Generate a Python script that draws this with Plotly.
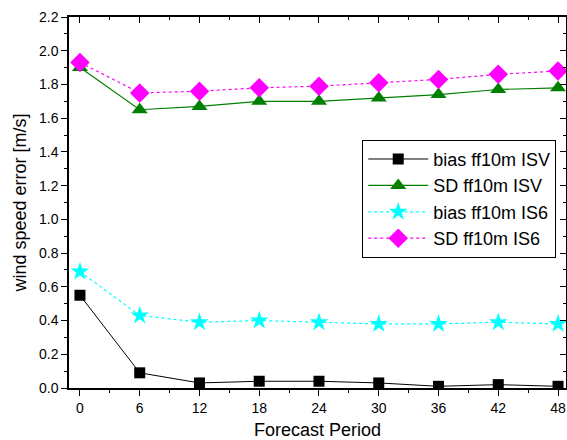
import plotly.graph_objects as go

# Forecast lead times (hours)
forecast_period = [0, 6, 12, 18, 24, 30, 36, 42, 48]

# Wind speed error statistics at 10 m [m/s]
bias_isv = [0.55, 0.09, 0.03, 0.04, 0.04, 0.03, 0.01, 0.02, 0.01]
sd_isv = [1.90, 1.65, 1.67, 1.70, 1.70, 1.72, 1.74, 1.77, 1.78]
bias_is6 = [0.69, 0.43, 0.39, 0.40, 0.39, 0.38, 0.38, 0.39, 0.38]
sd_is6 = [1.93, 1.75, 1.76, 1.78, 1.79, 1.81, 1.83, 1.86, 1.88]

series_names = ["bias ff10m ISV", "SD ff10m ISV", "bias ff10m IS6", "SD ff10m IS6"]

FONT = "Liberation Sans, Arial, sans-serif"

fig = go.Figure()

fig.add_trace(go.Scatter(
    x=forecast_period, y=bias_isv, name=series_names[0], mode="lines+markers",
    line=dict(color="black", width=1),
    marker=dict(symbol="square", size=11, color="black"),
))
fig.add_trace(go.Scatter(
    x=forecast_period, y=sd_isv, name=series_names[1], mode="lines+markers",
    line=dict(color="#008000", width=1.2),
    marker=dict(symbol="triangle-up", size=14, color="#008000"),
))
fig.add_trace(go.Scatter(
    x=forecast_period, y=bias_is6, name=series_names[2], mode="lines+markers",
    line=dict(color="#00FFFF", width=1.2, dash="dot"),
    marker=dict(symbol="star", size=14, color="#00FFFF"),
))
fig.add_trace(go.Scatter(
    x=forecast_period, y=sd_is6, name=series_names[3], mode="lines+markers",
    line=dict(color="#FF00FF", width=1.2, dash="dot"),
    marker=dict(symbol="diamond", size=15, color="#FF00FF"),
))

xrange = [-1.1, 48.8]
yrange = [0, 2.2]

fig.update_layout(
    width=567, height=440,
    margin=dict(l=69, r=1, t=17, b=52),
    paper_bgcolor="white", plot_bgcolor="white",
    font=dict(family=FONT, size=14, color="black"),
    showlegend=True,
    legend=dict(
        x=0.59, y=0.51, xanchor="left", yanchor="middle",
        bgcolor="white", bordercolor="black", borderwidth=1,
        font=dict(family=FONT, size=18, color="black"),
        tracegroupgap=0, itemwidth=60,
    ),
    xaxis=dict(
        range=xrange, tickmode="array", tickvals=forecast_period,
        ticks="outside", ticklen=6, tickwidth=1, tickcolor="black",
        showline=True, linecolor="black", linewidth=1.5,
        showgrid=False, zeroline=False,
        minor=dict(ticks="outside", ticklen=3, dtick=3, tick0=0, tickcolor="black", showgrid=False),
        title=dict(text="Forecast Period", font=dict(family=FONT, size=18), standoff=9),
        tickfont=dict(size=14),
    ),
    yaxis=dict(
        range=yrange, dtick=0.2, tickformat=".1f",
        ticks="outside", ticklen=6, tickwidth=1, tickcolor="black",
        showline=True, linecolor="black", linewidth=1.5,
        showgrid=False, zeroline=False,
        minor=dict(ticks="outside", ticklen=3, dtick=0.1, tickcolor="black", showgrid=False),
        title=dict(text="wind speed error [m/s]", font=dict(family=FONT, size=18), standoff=8),
        tickfont=dict(size=14),
    ),
    # mirrored frame with inward ticks on the top and right
    xaxis2=dict(
        overlaying="x", side="top", matches="x", range=xrange,
        tickmode="array", tickvals=forecast_period, showticklabels=False,
        ticks="inside", ticklen=6, tickcolor="black",
        showline=True, linecolor="black", linewidth=1.5, showgrid=False, zeroline=False,
        minor=dict(ticks="inside", ticklen=3, dtick=3, tick0=0, tickcolor="black", showgrid=False),
    ),
    yaxis2=dict(
        overlaying="y", side="right", range=yrange, dtick=0.2, showticklabels=False,
        ticks="inside", ticklen=6, tickcolor="black",
        showline=True, linecolor="black", linewidth=1.5, showgrid=False, zeroline=False,
        minor=dict(ticks="inside", ticklen=3, dtick=0.1, tickcolor="black", showgrid=False),
    ),
)

# invisible trace to activate the mirrored axes
fig.add_trace(go.Scatter(x=[None], y=[None], xaxis="x2", yaxis="y2",
                         showlegend=False, hoverinfo="skip"))

fig.write_html("out.html")
